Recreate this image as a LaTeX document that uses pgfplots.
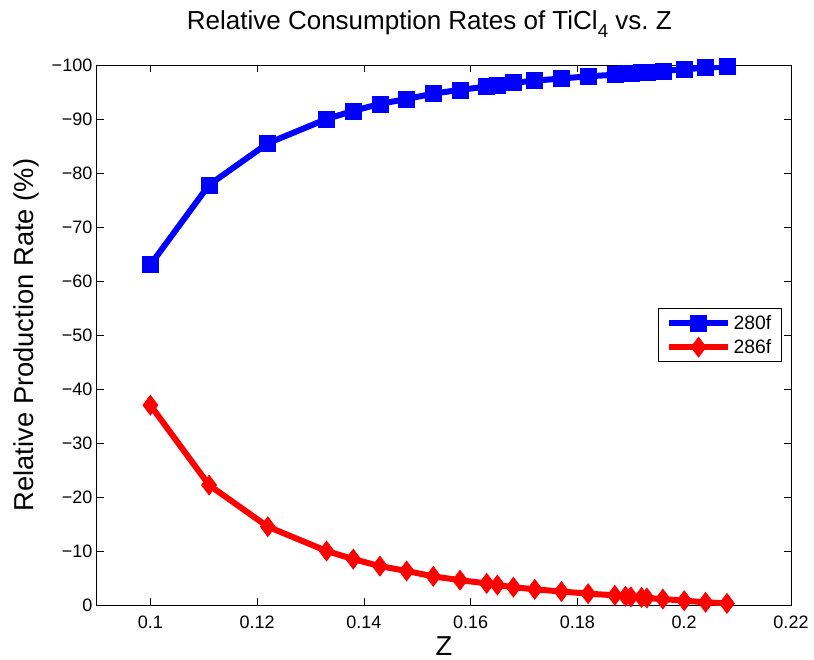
\documentclass[border=0pt]{standalone}
\usepackage{pgfplots}
\pgfplotsset{compat=1.18}
\usepackage{fontspec}
\setmainfont{Liberation Sans}
\definecolor{mblue}{rgb}{0,0,1}
\definecolor{mred}{rgb}{1,0,0}
\begin{document}
\begin{tikzpicture}
\path[use as bounding box] (-72.75pt,-41.25pt) rectangle ++(610.5pt,495pt);
\begin{axis}[
  at={(0,0)}, anchor=south west,
  scale only axis, width=520.5pt, height=405pt,
  xmin=0.09, xmax=0.22, ymin=-100, ymax=0, y dir=reverse,
  xtick={0.1,0.12,0.14,0.16,0.18,0.2,0.22},
  xticklabels={0.1,0.12,0.14,0.16,0.18,0.2,0.22},
  ytick={-100,-90,-80,-70,-60,-50,-40,-30,-20,-10,0},
  yticklabels={−100,−90,−80,−70,−60,−50,−40,−30,−20,−10,0},
  tick align=inside, major tick length=5pt,
  tick style={black, line width=0.6pt},
  axis line style={black, line width=0.75pt},
  ticklabel style={font=\fontsize{13.5}{16}\selectfont},
  xticklabel style={yshift=-5pt},
  xlabel={Z}, ylabel={Relative Production Rate (\%)},
  every axis x label/.style={at={(axis description cs:0.5,0)}, anchor=base, yshift=-37.5pt, font=\fontsize{20.5}{24}\selectfont},
  every axis y label/.style={at={(axis description cs:-0.0922,0.5)}, rotate=90, anchor=base, font=\fontsize{20.5}{24}\selectfont},
  title={Relative Consumption Rates of TiCl\raisebox{-6pt}{\fontsize{14}{14}\selectfont 4} vs.\ Z},
  title style={font=\fontsize{19.5}{23}\selectfont, at={(axis description cs:0.5,1)}, anchor=base, yshift=21pt, xshift=-11pt},
  legend style={at={(axis description cs:0.808,0.55)}, anchor=north west,
    font=\fontsize{14.5}{14.5}\selectfont, draw=black, line width=0.75pt,
    inner xsep=6pt, inner ysep=3pt, row sep=2pt},
  legend cell align=left,
  legend image code/.code={\draw[#1, mark repeat=2, mark phase=2] plot coordinates {(0pt,0pt) (22pt,0pt) (44pt,0pt)};},
]
\addplot[mblue, line width=4.5pt, mark=square*, mark size=6pt, mark options={solid, line width=0.5pt}] coordinates {
(0.100,-63.0) (0.111,-77.8) (0.122,-85.5) (0.133,-90.0) (0.138,-91.5) (0.143,-92.8)
(0.148,-93.7) (0.153,-94.7) (0.158,-95.4) (0.163,-96.0) (0.165,-96.3) (0.168,-96.7)
(0.172,-97.1) (0.177,-97.5) (0.182,-97.9) (0.187,-98.2) (0.189,-98.4) (0.190,-98.5)
(0.192,-98.6) (0.193,-98.7) (0.196,-98.9) (0.200,-99.2) (0.204,-99.5) (0.208,-99.7)
};
\addlegendentry{280f}
\addplot[mred, line width=4.5pt, mark=diamond*, mark size=7.5pt, mark options={solid, line width=0.5pt}] coordinates {
(0.100,-37.0) (0.111,-22.2) (0.122,-14.5) (0.133,-10.0) (0.138,-8.5) (0.143,-7.2)
(0.148,-6.3) (0.153,-5.3) (0.158,-4.6) (0.163,-4.0) (0.165,-3.7) (0.168,-3.3)
(0.172,-2.9) (0.177,-2.5) (0.182,-2.1) (0.187,-1.8) (0.189,-1.6) (0.190,-1.5)
(0.192,-1.4) (0.193,-1.3) (0.196,-1.1) (0.200,-0.8) (0.204,-0.5) (0.208,-0.3)
};
\addlegendentry{286f}
\end{axis}
\end{tikzpicture}
\end{document}
